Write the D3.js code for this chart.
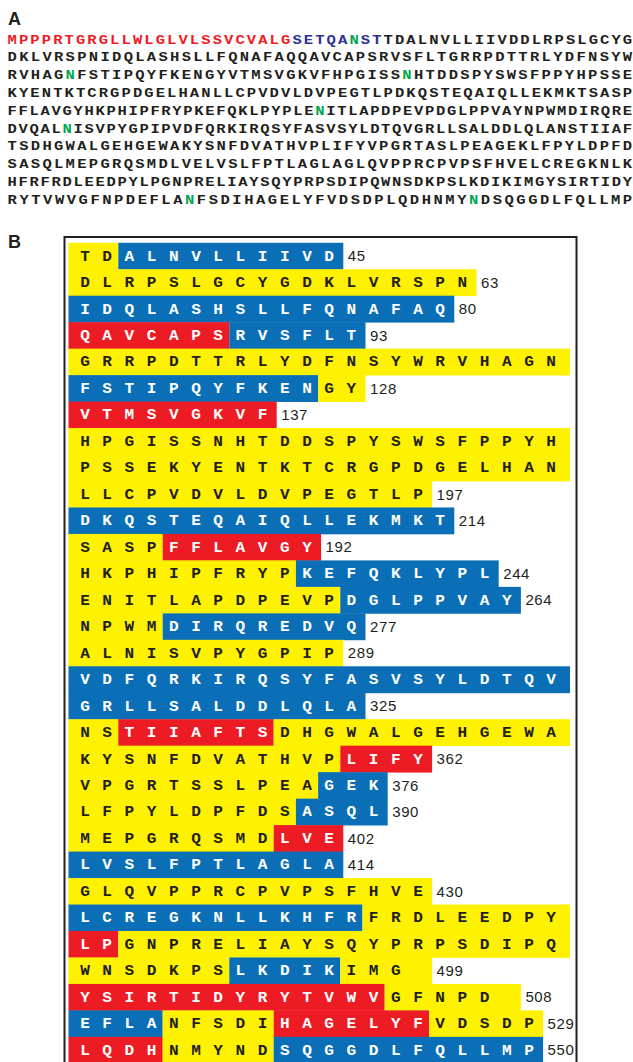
<!DOCTYPE html>
<html>
<head>
<meta charset="utf-8">
<script src="https://cdn.jsdelivr.net/npm/d3@7"></script>
<style>
  html, body { margin: 0; padding: 0; background: #fff; }
  svg { display: block; }
</style>
</head>
<body>
<svg id="fig" width="633" height="1062"></svg>
<script>
// ---------- panel A : the full sequence ----------
const seqLines = [
  "MPPPRTGRGLLWLGLVLSSVCVALGSETQANSTTDALNVLLIIVDDLRPSLGCYG",
  "DKLVRSPNIDQLASHSLLFQNAFAQQAVCAPSRVSFLTGRRPDTTRLYDFNSYW",
  "RVHAGNFSTIPQYFKENGYVTMSVGKVFHPGISSNHTDDSPYSWSFPPYHPSSE",
  "KYENTKTCRGPDGELHANLLCPVDVLDVPEGTLPDKQSTEQAIQLLEKMKTSASP",
  "FFLAVGYHKPHIPFRYPKEFQKLPYPLENITLAPDPEVPDGLPPVAYNPWMDIRQRE",
  "DVQALNISVPYGPIPVDFQRKIRQSYFASVSYLDTQVGRLLSALDDLQLANSTIIAF",
  "TSDHGWALGEHGEWAKYSNFDVATHVPLIFYVPGRTASLPEAGEKLFPYLDPFD",
  "SASQLMEPGRQSMDLVELVSLFPTLAGLAGLQVPPRCPVPSFHVELCREGKNLK",
  "HFRFRDLEEDPYLPGNPRELIAYSQYPRPSDIPQWNSDKPSLKDIKIMGYSIRTIDY",
  "RYTVWVGFNPDEFLANFSDIHAGELYFVDSDPLQDHNMYNDSQGGDLFQLLMP"
];
// [line, first index, last index, kind]
const seqRanges = [
  [0, 0, 24, "signal"],
  [0, 25, 32, "pro"]
];
// N-glycosylation sites, [line, index]
const glycoSites = [[0, 30], [2, 5], [2, 34], [4, 28], [5, 5], [9, 15], [9, 39]];

// ---------- panel B : segments per row ----------
const rowSegments = [
  [["TD", "Y"], ["ALNVLLIIVD", "B"]],
  [["DLRPSLGCYGDKLVRSPN", "Y"]],
  [["IDQLASHSLLFQNAFAQ", "B"]],
  [["QAVCAPS", "R"], ["RVSFLT", "B"]],
  [["GRRPDTTRLYDFNSYWRVHAGN", "Y"]],
  [["FSTIPQYFKEN", "B"], ["GY", "Y"]],
  [["VTMSVGKVF", "R"]],
  [["HPGISSNHTDDSPYSWSFPPYH", "Y"]],
  [["PSSEKYENTKTCRGPDGELHAN", "Y"]],
  [["LLCPVDVLDVPEGTLP", "Y"]],
  [["DKQSTEQAIQLLEKMKT", "B"]],
  [["SASP", "Y"], ["FFLAVGY", "R"]],
  [["HKPHIPFRYP", "Y"], ["KEFQKLYPL", "B"]],
  [["ENITLAPDPEVP", "Y"], ["DGLPPVAY", "B"]],
  [["NPWM", "Y"], ["DIRQREDVQ", "B"]],
  [["ALNISVPYGPIP", "Y"]],
  [["VDFQRKIRQSYFASVSYLDTQV", "B"]],
  [["GRLLSALDDLQLA", "B"]],
  [["NS", "Y"], ["TIIAFTS", "R"], ["DHGWALGEHGEWA", "Y"]],
  [["KYSNFDVATHVP", "Y"], ["LIFY", "R"]],
  [["VPGRTSSLPEA", "Y"], ["GEK", "B"]],
  [["LFPYLDPFDS", "Y"], ["ASQL", "B"]],
  [["MEPGRQSMD", "Y"], ["LVE", "R"]],
  [["LVSLFPTLAGLA", "B"]],
  [["GLQVPPRCPVPSFHVE", "Y"]],
  [["LCREGKNLLKHFR", "B"], ["FRDLEEDPY", "Y"]],
  [["LP", "R"], ["GNPRELIAYSQYPRPSDIPQ", "Y"]],
  [["WNSDKPS", "Y"], ["LKDIK", "B"], ["IMG ", "Y"]],
  [["YSIRTIDYRYTVWV", "R"], ["GFNPD ", "Y"]],
  [["EFLA", "B"], ["NFSDI", "Y"], ["HAGELYF", "R"], ["VDSDP", "Y"]],
  [["LQDH", "R"], ["NMYND", "Y"], ["SQGGDLFQLLMP", "B"]]
];
const rowLabels = ["45", "63", "80", "93", "", "128", "137", "", "", "197", "214",
  "192", "244", "264", "277", "289", "", "325", "", "362", "376", "390", "402",
  "414", "430", "", "", "499", "508", "529", "550"];

// ---------- styles ----------
const ink = "#231f20";
const segFill = { Y: "#fff200", B: "#0b6fb8", R: "#ed1c24" };
const segText = { Y: ink, B: "#ffffff", R: "#ffffff" };
const seqColor = { signal: "#ed1c24", pro: "#2e3192", glyco: "#00a651" };
const monoFont = "'Liberation Mono', 'Courier New', monospace";

const svg = d3.select("#fig");
svg.append("rect").attr("width", 633).attr("height", 1062).attr("fill", "#fff");

// panel letters
svg.append("text").attr("x", 8).attr("y", 25).text("A")
  .attr("font-family", "'Liberation Sans', Arial, sans-serif")
  .attr("font-weight", "bold").attr("font-size", 18).attr("fill", ink);
svg.append("text").attr("x", 8).attr("y", 248).text("B")
  .attr("font-family", "'Liberation Sans', Arial, sans-serif")
  .attr("font-weight", "bold").attr("font-size", 18).attr("fill", ink);

//------------------- panel A -------------------
const yLine = d3.scaleLinear().domain([0, 9]).range([43.5, 203.7]);

function charColor(li, ci) {
  for (const g of glycoSites) if (g[0] == li && g[1] == ci) return seqColor.glyco;
  for (const r of seqRanges) if (r[0] == li && ci >= r[1] && ci <= r[2]) return seqColor[r[3]];
  return ink;
}

const aChars = [];
seqLines.forEach((line, li) => {
  // each line is justified from edge to edge
  const xc = d3.scaleLinear().domain([0, line.length - 1]).range([12.2, 627.5]);
  line.split("").forEach((ch, ci) => {
    aChars.push({ ch: ch, x: xc(ci), y: yLine(li), fill: charColor(li, ci) });
  });
});

svg.append("g").selectAll("text").data(aChars).join("text")
  .attr("transform", d => `translate(${d.x},${d.y}) scale(1.15,1)`)
  .attr("text-anchor", "middle")
  .attr("font-family", monoFont).attr("font-weight", "bold").attr("font-size", 13.5)
  .attr("fill", d => d.fill)
  .text(d => d.ch);

//------------------- panel B -------------------
const xCol = d3.scaleLinear().domain([0, 21]).range([85, 551.2]);
const yRow = d3.scaleLinear().domain([0, 30]).range([256, 1050.1]);
const rowH = yRow(1) - yRow(0);
const maxCols = 22;

const cells = [], bars = [], labels = [];
rowSegments.forEach((segs, ri) => {
  const total = d3.sum(segs, s => s[0].length);
  const rowEnd = total == maxCols ? 570 : xCol(total - 0.5) + 3;
  let start = 0;
  segs.forEach((s, si) => {
    const end = start + s[0].length;
    const x0 = start == 0 ? 68.5 : xCol(start - 0.5);
    const x1 = si == segs.length - 1 ? rowEnd : xCol(end - 0.5);
    bars.push({ x: x0, w: x1 - x0, y: yRow(ri) - rowH / 2, fill: segFill[s[1]] });
    s[0].split("").forEach((ch, k) => {
      if (ch != " ") cells.push({ ch: ch, x: xCol(start + k), y: yRow(ri), fill: segText[s[1]] });
    });
    start = end;
  });
  if (rowLabels[ri]) labels.push({ t: rowLabels[ri], x: rowEnd + 4.5, y: yRow(ri) });
});

svg.append("g").selectAll("rect").data(bars).join("rect")
  .attr("x", d => d.x).attr("y", d => d.y)
  .attr("width", d => d.w).attr("height", rowH + 0.4)
  .attr("fill", d => d.fill);

svg.append("g").selectAll("text").data(cells).join("text")
  .attr("transform", d => `translate(${d.x},${d.y + 4.6}) scale(1.15,1)`)
  .attr("text-anchor", "middle")
  .attr("font-family", monoFont).attr("font-weight", "bold").attr("font-size", 14)
  .attr("fill", d => d.fill)
  .text(d => d.ch);

svg.append("g").selectAll("text").data(labels).join("text")
  .attr("x", d => d.x).attr("y", d => d.y + 5.3)
  .attr("font-family", "'Liberation Sans', Arial, sans-serif")
  .attr("font-size", 15).attr("letter-spacing", 0.6)
  .attr("fill", ink)
  .text(d => d.t);

// frame round panel B
svg.append("rect")
  .attr("x", 64.5).attr("y", 237).attr("width", 512).attr("height", 900)
  .attr("fill", "none").attr("stroke", ink).attr("stroke-width", 2);
</script>
</body>
</html>
